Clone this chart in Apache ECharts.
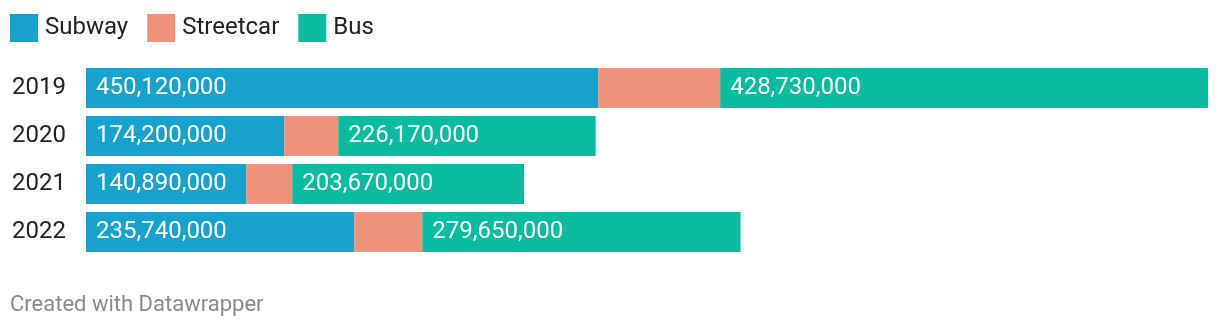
<!DOCTYPE html>
<html>
<head>
<meta charset="utf-8">
<script src="https://cdn.jsdelivr.net/npm/echarts@6/dist/echarts.min.js"></script>
<style>
html,body{margin:0;padding:0;background:#fff;}
#c{width:1220px;height:330px;}
</style>
</head>
<body>
<div id="c"></div>
<script>
const years = ['2019', '2020', '2021', '2022'];
const subway = [450120000, 174200000, 140890000, 235740000];
const streetcar = [107200000, 47500000, 40400000, 59800000];
const bus = [428730000, 226170000, 203670000, 279650000];
const seriesNames = ['Subway', 'Streetcar', 'Bus'];
const colors = ['#18a1cd', '#ee9279', '#09bc9f'];
const footer = 'Created with Datawrapper';

const font = 'Roboto, sans-serif';
const fmt = v => v.toLocaleString('en-US');

const labelOn = {
  show: true, position: 'insideLeft', distance: 10,
  color: '#ffffff', fontSize: 24, fontFamily: font,
  formatter: p => fmt(p.value)
};

const chart = echarts.init(document.getElementById('c'), null, {renderer: 'canvas'});
chart.setOption({
  animation: false,
  color: colors,
  textStyle: {fontFamily: font},
  legend: {
    left: 10, top: 14, padding: 0, itemWidth: 28, itemHeight: 28, itemGap: 19,
    icon: 'rect',
    textStyle: {fontSize: 24, color: '#222', fontFamily: font, padding: [0, 0, 0, 2]},
    data: seriesNames
  },
  grid: {left: 86, right: 12, top: 64, height: 192, containLabel: false},
  xAxis: {
    type: 'value', min: 0, max: 'dataMax', show: false
  },
  yAxis: {
    type: 'category', data: years, inverse: true,
    axisLine: {show: false}, axisTick: {show: false},
    axisLabel: {align: 'left', margin: 74, fontSize: 24, color: '#222', fontFamily: font}
  },
  series: [
    {name: seriesNames[0], type: 'bar', stack: 't', data: subway, barWidth: 40, label: labelOn},
    {name: seriesNames[1], type: 'bar', stack: 't', data: streetcar, barWidth: 40},
    {name: seriesNames[2], type: 'bar', stack: 't', data: bus, barWidth: 40, label: labelOn}
  ],
  graphic: [{
    type: 'text', left: 10, top: 294,
    style: {text: footer, fill: '#8a8a8a', fontSize: 22, fontFamily: font}
  }]
});
</script>
</body>
</html>
